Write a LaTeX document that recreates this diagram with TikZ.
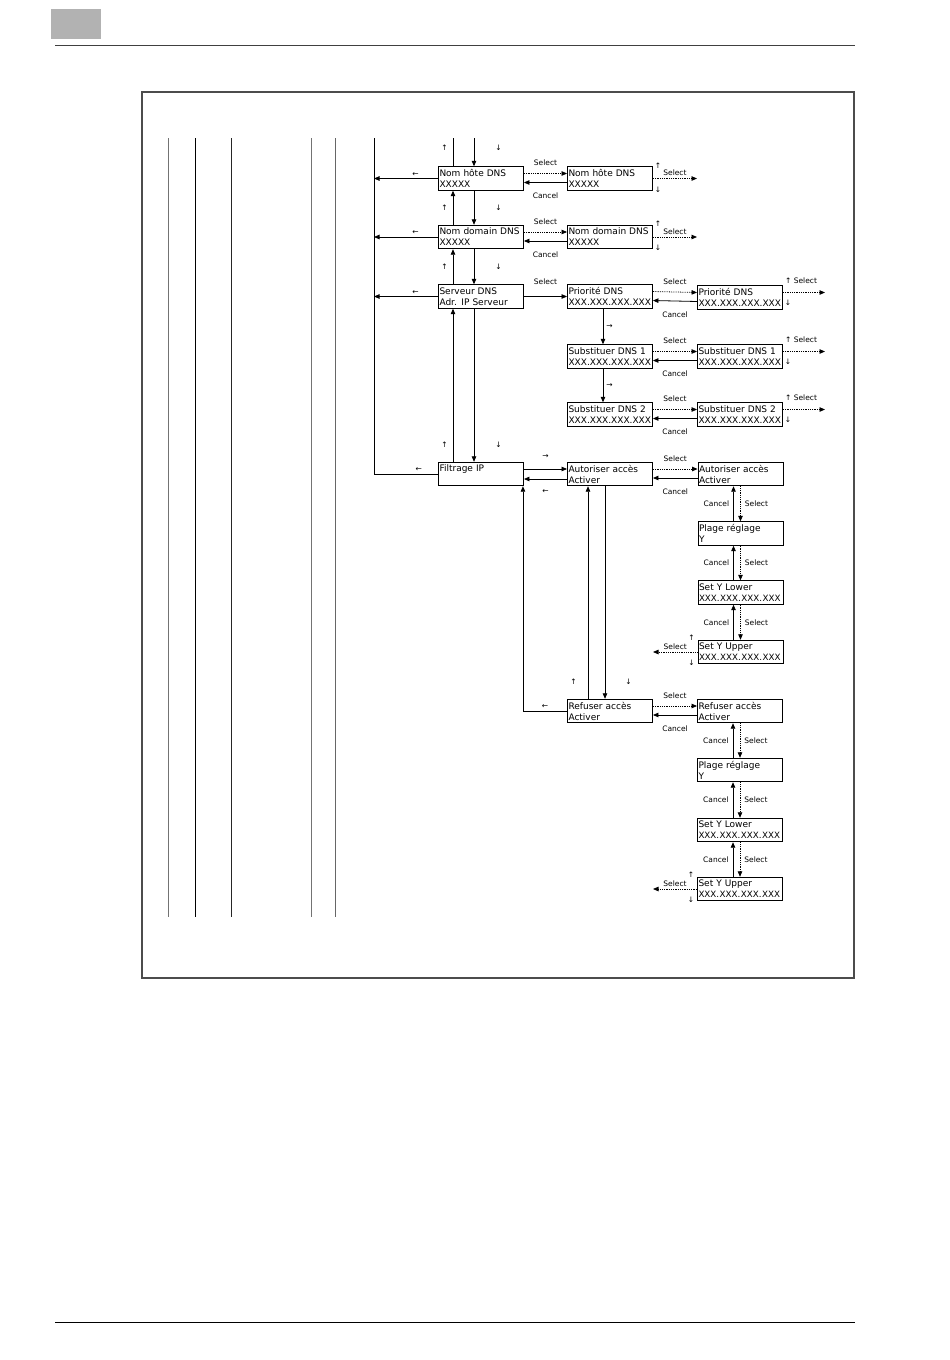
\documentclass[tikz,border=0pt]{standalone}
\usepackage{fontspec}
\setmainfont{DejaVu Sans}
\usetikzlibrary{arrows.meta,calc,positioning}

\newcommand{\ipx}{{\fontsize{8.7}{11}\selectfont XXX.\kern0.6pt XXX.\kern0.6pt XXX.\kern0.6pt XXX}}

\tikzset{
  menu/.style={draw, line width=0.9pt, text width=83pt, inner xsep=1pt, inner ysep=0pt,
               minimum height=23.5pt, align=left, font=\fontsize{9}{11}\selectfont},
  link/.style={line width=0.8pt, -{Triangle[length=5.5pt,width=4.5pt]}},
  sel/.style={link, densely dotted},
  plain/.style={line width=0.8pt},
  lab/.style={font=\fontsize{7.5}{8}\selectfont, inner sep=1pt},
  dir/.style={font=\fontsize{7.5}{8}\selectfont, inner sep=1pt},
}

\begin{document}
\begin{tikzpicture}[x=1pt,y=-1pt]
\useasboundingbox (0,0) rectangle (950,1360);
% page furniture
\fill[black!30] (51,9) rectangle (101,39);
\draw[black!75, line width=0.8pt] (55,45) -- (855,45);
\draw[line width=1pt] (55,1322) -- (855,1322);
\draw[black!70, line width=1.4pt] (142,92) rectangle (854,978);
% menu levels on the left
\foreach \x/\c in {168/black!55, 195/black, 231/black!85, 311/black!55, 335/black!60}
  \draw[\c, line width=0.8pt] (\x,138) -- (\x,917);
\coordinate (top) at (0,138);
\coordinate (bus) at (374,138);
\coordinate (outH) at (697,0);
\coordinate (outS) at (825,0);
\coordinate (outU) at (653,0);

% DNS
\node[menu] (hoteA) at (481,178.5) {Nom hôte DNS\\XXXXX};
\node[menu] (hoteB) at (610,178.5) {Nom hôte DNS\\XXXXX};
\node[menu] (domA) at (481,237) {Nom domain DNS\\XXXXX};
\node[menu] (domB) at (610,237) {Nom domain DNS\\XXXXX};
\node[menu] (servA) at (481,296.5) {Serveur DNS\\Adr. IP Serveur};
\node[menu] (prioA) at (610,296.5) {Priorité DNS\\XXX.XXX.XXX.XXX};
\node[menu] (prioB) at (740,297.5) {Priorité DNS\\XXX.XXX.XXX.XXX};
\node[menu] (subA) at (610,356.5) {Substituer DNS 1\\XXX.XXX.XXX.XXX};
\node[menu] (subB) at (740,356.5) {Substituer DNS 1\\XXX.XXX.XXX.XXX};
\node[menu] (subC) at (610,414.5) {Substituer DNS 2\\XXX.XXX.XXX.XXX};
\node[menu] (subD) at (740,414.5) {Substituer DNS 2\\XXX.XXX.XXX.XXX};
% IP filter
\node[menu] (filtre) at (481,474) {Filtrage IP\\\mbox{}};
\node[menu] (autA) at (610,474) {Autoriser accès\\Activer};
\node[menu] (autB) at (740.5,474) {Autoriser accès\\Activer};
\node[menu] (plageA) at (740.5,533.5) {Plage réglage\\Y};
\node[menu] (lowA) at (740.5,592.5) {Set Y Lower\\\ipx};
\node[menu] (upA) at (740.5,652) {Set Y Upper\\\ipx};
\node[menu] (refA) at (610,711) {Refuser accès\\Activer};
\node[menu] (refB) at (740,711) {Refuser accès\\Activer};
\node[menu] (plageB) at (740,770) {Plage réglage\\Y};
\node[menu] (lowB) at (740,830) {Set Y Lower\\\ipx};
\node[menu] (upB) at (740,889) {Set Y Upper\\\ipx};

% up / down in the first column
\draw[plain] ([xshift=-28pt]hoteA.north) -- ([xshift=-28pt]hoteA.north |- top) node[pos=.65, left=4pt, dir]{↑};
\draw[link] ([xshift=-7pt]hoteA.north |- top) -- ([xshift=-7pt]hoteA.north) node[pos=.35, right=20pt, dir]{↓};
\foreach \a/\b in {hoteA/domA, domA/servA} {
  \draw[link] ([xshift=-28pt]\b.north) -- ([xshift=-28pt]\a.south) node[midway, left=4pt, dir]{↑};
  \draw[link] ([xshift=-7pt]\a.south) -- ([xshift=-7pt]\b.north) node[midway, right=20pt, dir]{↓};
}
\draw[link] ([xshift=-28pt]filtre.north) -- ([xshift=-28pt]servA.south) node[pos=.11, left=4pt, dir]{↑};
\draw[link] ([xshift=-7pt]servA.south) -- ([xshift=-7pt]filtre.north) node[pos=.89, right=20pt, dir]{↓};

% back to the upper level
\foreach \n in {hoteA, domA, servA}
  \draw[link] (\n.west) -- (\n.west -| bus) node[pos=.35, above=1pt, dir]{←};
\draw[plain] (filtre.west) -- node[pos=.3, above=1pt, dir]{←} (filtre.west -| bus) -- (bus);

% Select / Cancel
\foreach \a/\b in {hoteA/hoteB, domA/domB, prioA/prioB, subA/subB, subC/subD, autA/autB, refA/refB} {
  \draw[sel] ([yshift=5pt]\a.east) -- ([yshift=5pt]\b.west) node[midway, above=6pt, lab]{Select};
  \draw[link] ([yshift=-4pt]\b.west) -- ([yshift=-4pt]\a.east) node[midway, below=9pt, lab]{Cancel};
}
\draw[link] (servA) -- (prioA) node[midway, above=10pt, lab]{Select};
\foreach \a/\b in {prioA/subA, subA/subC}
  \draw[link] ([xshift=-7pt]\a.south) -- ([xshift=-7pt]\b.north) node[midway, right=2pt, dir]{→};

% exits on the right
\foreach \n in {hoteB, domB} {
  \draw[sel] (\n.east) -- (\n.east -| outH) node[midway, above=1pt, lab]{Select};
  \node[dir] at ([xshift=5pt,yshift=13pt]\n.east) {↑};
  \node[dir] at ([xshift=5pt,yshift=-11pt]\n.east) {↓};
}
\foreach \n in {prioB, subB, subD} {
  \draw[sel] ([yshift=5pt]\n.east) -- ([yshift=5pt]\n.east -| outS);
  \node[lab, anchor=west] at ([xshift=1pt,yshift=17pt]\n.east) {↑ Select};
  \node[dir] at ([xshift=5pt,yshift=-5pt]\n.east) {↓};
}

% IP filter links
\draw[link] ([yshift=5pt]filtre.east) -- ([yshift=5pt]autA.west) node[midway, above=9pt, dir]{→};
\draw[link] ([yshift=-5pt]autA.west) -- ([yshift=-5pt]filtre.east) node[midway, below=9pt, dir]{←};
\draw[link] (refA.west) -| ([xshift=-1pt]filtre.south east) node[pos=.25, above=1pt, dir]{←};
\draw[link] ([xshift=-22pt]refA.north) -- ([xshift=-22pt]autA.south) node[pos=.08, left=10pt, dir]{↑};
\draw[link] ([xshift=-5pt]autA.south) -- ([xshift=-5pt]refA.north) node[pos=.92, right=19pt, dir]{↓};

\foreach \a/\b in {autB/plageA, plageA/lowA, lowA/upA, refB/plageB, plageB/lowB, lowB/upB} {
  \draw[sel] (\a.south) -- (\b.north) node[midway, right=3pt, lab]{Select};
  \draw[link] ([xshift=-7pt]\b.north) -- ([xshift=-7pt]\a.south) node[midway, left=3pt, lab]{Cancel};
}
\foreach \n in {upA, upB} {
  \draw[sel] (\n.west) -- (\n.west -| outU) node[midway, above=1pt, lab]{Select};
  \node[dir] at ([xshift=-6pt,yshift=14pt]\n.west) {↑};
  \node[dir] at ([xshift=-6pt,yshift=-11pt]\n.west) {↓};
}
\end{tikzpicture}
\end{document}
